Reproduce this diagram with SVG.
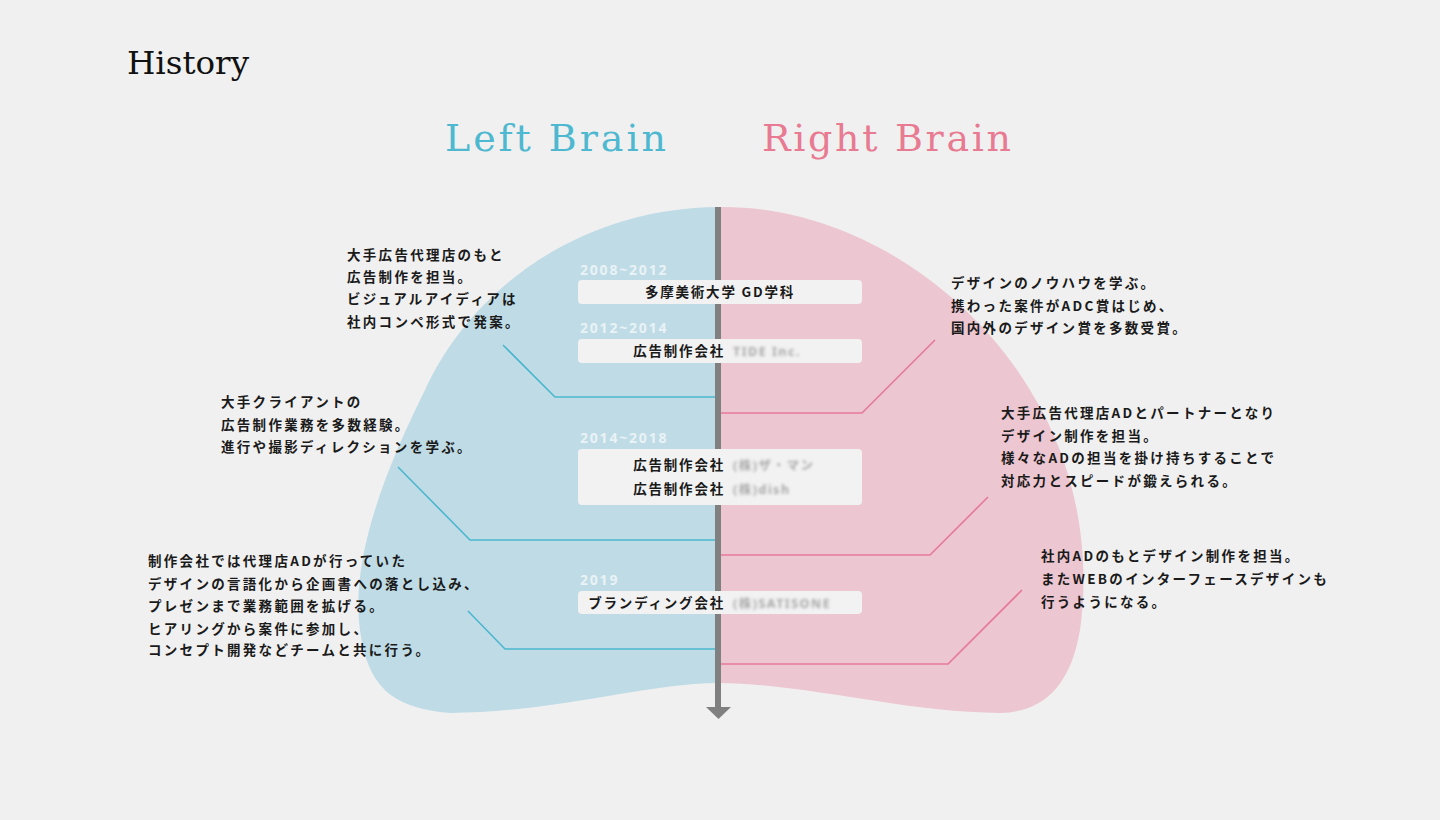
<svg xmlns="http://www.w3.org/2000/svg" width="1440" height="820" viewBox="0 0 1440 820">
<defs>
<style>
.title{font-family:"DejaVu Serif","Liberation Serif",serif;}
.jp{font-family:"Noto Sans CJK JP","Noto Sans",sans-serif;font-weight:700;font-size:13.5px;fill:#1a1a1a;letter-spacing:2.3px;}
.box{fill:#f2f2f2;}
.yr{font-family:"Noto Sans","Noto Sans CJK JP",sans-serif;font-weight:700;font-size:14px;fill:#e9f2f5;letter-spacing:1.8px;}
.bt{font-family:"Noto Sans CJK JP","Noto Sans",sans-serif;font-weight:700;font-size:13.5px;fill:#1a1a1a;letter-spacing:1.8px;}
.blur{font-family:"Noto Sans","Noto Sans CJK JP",sans-serif;font-weight:700;font-size:12.5px;fill:#a8a8a8;letter-spacing:1.5px;filter:url(#bl);}
.lb{fill:none;stroke:#4cb6cf;stroke-width:1.6;}
.lp{fill:none;stroke:#e6799a;stroke-width:1.6;}
</style>
<filter id="bl" x="-10%" y="-50%" width="120%" height="200%"><feGaussianBlur stdDeviation="1.8"/></filter>
</defs>
<rect width="1440" height="820" fill="#f0f0f0"/>
<text class="title" x="127" y="74" font-size="31" fill="#111" textLength="122" lengthAdjust="spacingAndGlyphs">History</text>
<text class="title" x="445" y="151" font-size="38" fill="#4db8d0" textLength="221">Left Brain</text>
<text class="title" x="762" y="151" font-size="38" fill="#e87a92" textLength="249">Right Brain</text>

<g id="brain">
<path d="M718,207 C 580,208 470,290 425,390 C 385,470 350,560 360,630 C 368,690 395,708 450,713 C 560,712 640,684 718,683 Z" fill="#bfdce6"/>
<path d="M718,207 C 850,205 970,290 1030,390 C 1080,470 1090,560 1080,630 C 1070,690 1040,712 1000,713 C 900,712 810,684 718,683 Z" fill="#ecc6d0"/>
</g>

<g id="connectors">
<polyline class="lb" points="503,345 555,397 718,397"/>
<polyline class="lb" points="398,467 470,540 718,540"/>
<polyline class="lb" points="468,611 505,649 718,649"/>
<polyline class="lp" points="935,340 862,413 721,413"/>
<polyline class="lp" points="988,497 930,555 721,555"/>
<polyline class="lp" points="1022,590 948,664 721,664"/>
</g>

<g id="axis">
<rect x="715" y="207" width="6" height="501" fill="#808080"/>
<polygon points="706,707 731,707 718.5,719" fill="#808080"/>
</g>

<g id="year-2008">
<text class="yr" x="580" y="275">2008~2012</text>
<rect class="box" x="578" y="280" width="284" height="24" rx="4"/>
<text class="bt" x="720" y="297" text-anchor="middle">多摩美術大学 GD学科</text>
</g>
<g id="year-2012">
<text class="yr" x="580" y="333">2012~2014</text>
<rect class="box" x="578" y="339" width="284" height="24" rx="4"/>
<text class="bt" x="725" y="356" text-anchor="end">広告制作会社</text>
<text class="blur" x="733" y="356">TIDE Inc.</text>
</g>
<g id="year-2014">
<text class="yr" x="580" y="443">2014~2018</text>
<rect class="box" x="578" y="449" width="284" height="56" rx="4"/>
<text class="bt" x="725" y="470" text-anchor="end">広告制作会社</text>
<text class="blur" x="733" y="470">(株)ザ・マン</text>
<text class="bt" x="725" y="494" text-anchor="end">広告制作会社</text>
<text class="blur" x="733" y="494">(株)dish</text>
</g>
<g id="year-2019">
<text class="yr" x="580" y="585">2019</text>
<rect class="box" x="578" y="591" width="284" height="23" rx="4"/>
<text class="bt" x="725" y="608" text-anchor="end">ブランディング会社</text>
<text class="blur" x="733" y="608">(株)SATISONE</text>
</g>

<g id="left-1">
<text class="jp" x="347" y="260">大手広告代理店のもと</text>
<text class="jp" x="347" y="282">広告制作を担当。</text>
<text class="jp" x="347" y="304">ビジュアルアイディアは</text>
<text class="jp" x="347" y="327">社内コンペ形式で発案。</text>
</g>
<g id="left-2">
<text class="jp" x="221" y="407">大手クライアントの</text>
<text class="jp" x="221" y="430">広告制作業務を多数経験。</text>
<text class="jp" x="221" y="452">進行や撮影ディレクションを学ぶ。</text>
</g>
<g id="left-3">
<text class="jp" x="148" y="566">制作会社では代理店ADが行っていた</text>
<text class="jp" x="148" y="589">デザインの言語化から企画書への落とし込み、</text>
<text class="jp" x="148" y="611">プレゼンまで業務範囲を拡げる。</text>
<text class="jp" x="148" y="634">ヒアリングから案件に参加し、</text>
<text class="jp" x="148" y="655">コンセプト開発などチームと共に行う。</text>
</g>
<g id="right-1">
<text class="jp" x="951" y="288">デザインのノウハウを学ぶ。</text>
<text class="jp" x="951" y="311">携わった案件がADC賞はじめ、</text>
<text class="jp" x="951" y="333">国内外のデザイン賞を多数受賞。</text>
</g>
<g id="right-2">
<text class="jp" x="1001" y="418">大手広告代理店ADとパートナーとなり</text>
<text class="jp" x="1001" y="441">デザイン制作を担当。</text>
<text class="jp" x="1001" y="463">様々なADの担当を掛け持ちすることで</text>
<text class="jp" x="1001" y="486">対応力とスピードが鍛えられる。</text>
</g>
<g id="right-3">
<text class="jp" x="1041" y="561">社内ADのもとデザイン制作を担当。</text>
<text class="jp" x="1041" y="584">またWEBのインターフェースデザインも</text>
<text class="jp" x="1041" y="607">行うようになる。</text>
</g>
</svg>
